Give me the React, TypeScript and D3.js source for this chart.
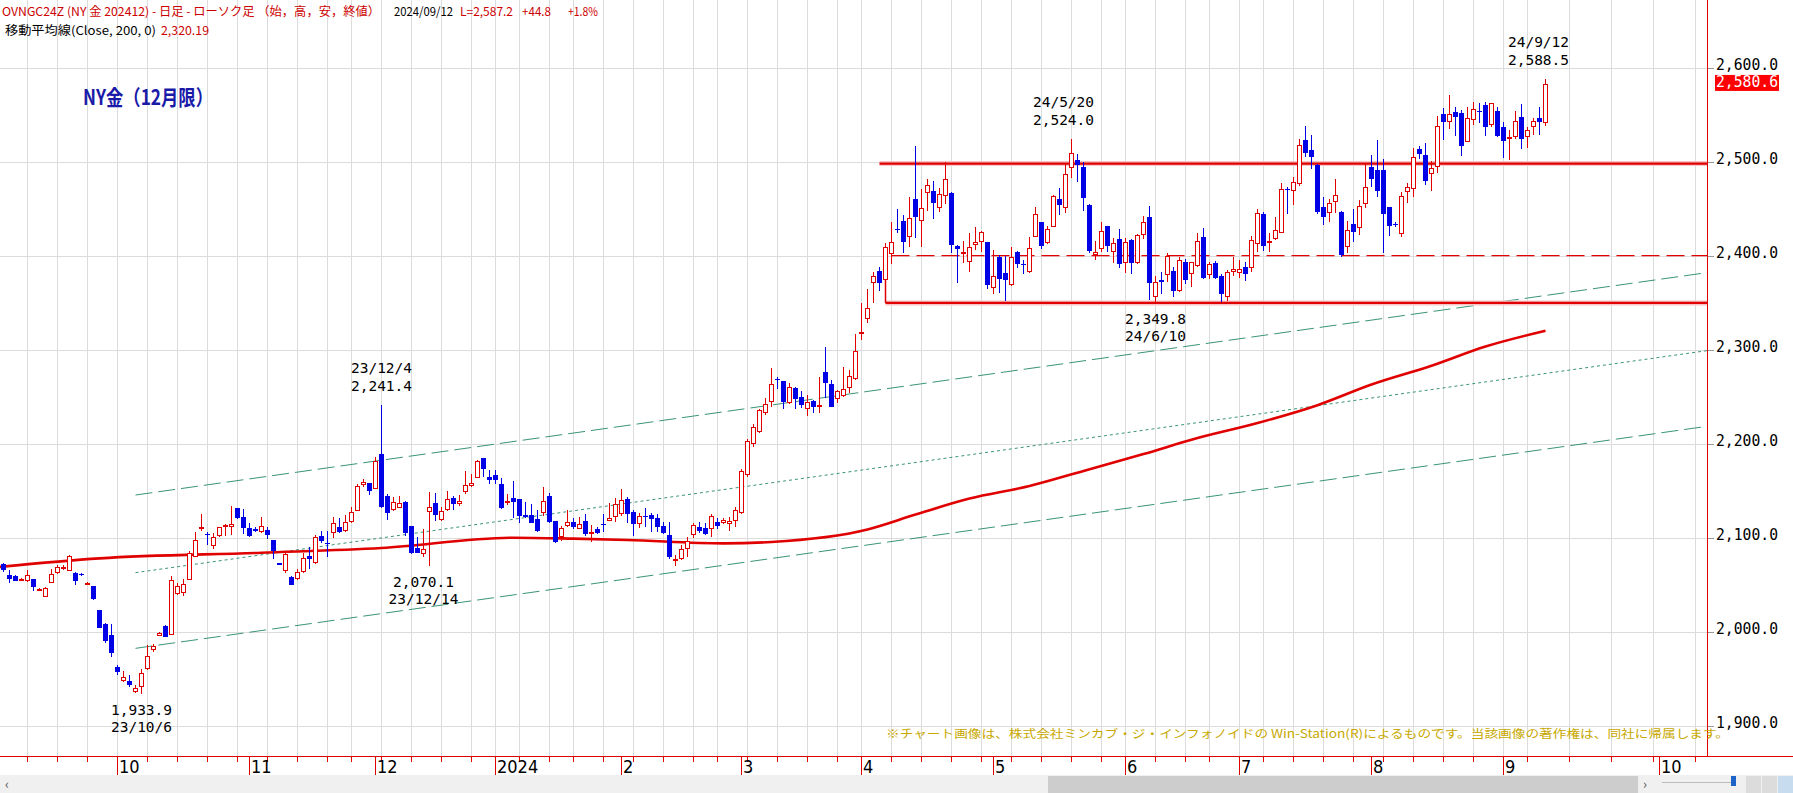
import React from 'react';
import * as d3 from 'd3';

// ---------- categories (trading days) ----------
const firstDay = '2023-09-05';
const lastDay = '2024-09-12';
const holidays = ['2023-09-04', '2023-11-23', '2023-12-25', '2024-01-01', '2024-01-15', '2024-02-19', '2024-03-29', '2024-05-27', '2024-06-19', '2024-07-04', '2024-09-02'];
const futureEnd = '2024-10-20';

// ---------- OHLC series (NY gold Dec-24, daily) ----------
const opens = [
  2072, 2059.9, 2059.2, 2054.6, 2053.6, 2055.7, 2044.3, 2037.2, 2051.4, 2062.1,
  2067.7, 2064.2, 2062.1, 2061.7, 2050.4, 2048.2, 2022.7, 2007.8, 1996.5, 1962.8,
  1947.2, 1947.9, 1935.5, 1941.5, 1959.9, 1980.5, 1995.8, 2006, 1996.1, 2039.7,
  2040.8, 2054.6, 2079.1, 2109.6, 2103.9, 2091.5, 2101.8, 2111.7, 2111, 2131.2,
  2121.6, 2109.9, 2109.2, 2105.7, 2108.2, 2097.2, 2072.8, 2065, 2058.6, 2056.5,
  2063.2, 2080.6, 2073.1, 2101.5, 2094.8, 2104.7, 2111.4, 2107.5, 2117.1, 2128.8,
  2155.7, 2158.6, 2151.8, 2189.1, 2144, 2129.5, 2132, 2138.4, 2112.1, 2089.1,
  2083, 2127.7, 2136.6, 2118.9, 2129.5, 2141.9, 2135.9, 2148.3, 2155, 2163.9,
  2184.5, 2164.6, 2166.4, 2156.8, 2137.3, 2141.9, 2140.9, 2123.8, 2123.8, 2119.6,
  2126, 2144.8, 2117.8, 2101.1, 2112.5, 2116.4, 2109.7, 2117.8, 2104.7, 2109.3,
  2114.6, 2118.2, 2121.7, 2125.6, 2140.9, 2127.7, 2114.6, 2123.1, 2124.2, 2120.6,
  2112.5, 2102.9, 2076.3, 2077.7, 2088.4, 2103.3, 2111.8, 2110, 2108.9, 2117.1,
  2116, 2114.3, 2117.5, 2126, 2166.4, 2199.4, 2212.1, 2232.3, 2244.8, 2268.5,
  2266.4, 2243, 2258.9, 2249.4, 2236.6, 2245.5, 2239.8, 2276, 2263.2, 2247.2,
  2250.8, 2259.3, 2268.5, 2316.4, 2332.7, 2370.6, 2383.8, 2374.2, 2401.5, 2428.4,
  2437, 2420.3, 2460.4, 2436.6, 2466.4, 2468.9, 2450.4, 2463.5, 2467.1, 2410.7,
  2401.5, 2393.7, 2411.1, 2414.3, 2414.6, 2365.3, 2399, 2381.6, 2369.2, 2403.6,
  2391.2, 2383.1, 2420.3, 2435.5, 2413.2, 2430.9, 2460.4, 2450.4, 2493, 2501.5,
  2494.4, 2454, 2400.8, 2407.5, 2431.3, 2404.3, 2417.4, 2391.9, 2416.7, 2391.9,
  2421.7, 2440.9, 2356.5, 2373.8, 2379.2, 2383.8, 2362.8, 2393.7, 2380.6, 2389.4,
  2420.3, 2379.2, 2391.9, 2378.4, 2355.7, 2383.1, 2381.6, 2388.4, 2386.6, 2412.1,
  2444, 2413.9, 2418.2, 2424.5, 2470.6, 2468.5, 2475.9, 2523.1, 2512.5, 2496.9,
  2451.8, 2445.1, 2457.5, 2446.1, 2409.6, 2433.7, 2429.1, 2455, 2494.4, 2491.2,
  2491.2, 2451.8, 2433.7, 2422.7, 2467.8, 2470.6, 2513.2, 2507.1, 2486.6, 2494.7,
  2550.4, 2542.2, 2552.5, 2551.5, 2521.3, 2544.4, 2554.3, 2560.3, 2539.1, 2553.9,
  2537.3, 2524.9, 2526.6, 2547.2, 2526.6, 2536.6, 2546.9, 2540.8,
];
const highs = [
  2073.4, 2065.6, 2059.9, 2056.8, 2065.6, 2056.4, 2046.1, 2047.2, 2066.3, 2070.6,
  2071.3, 2081.6, 2063.5, 2062.1, 2053.2, 2048.6, 2023.1, 2008.9, 2008.2, 1964.6,
  1958.2, 1953.9, 1943.3, 1960.7, 1985.8, 1986.5, 1999.3, 2006.8, 2059.2, 2051.4,
  2055.7, 2085.5, 2106, 2125.5, 2106.4, 2105, 2111.7, 2114.2, 2133.7, 2131.6,
  2130.2, 2115.3, 2111, 2121.7, 2111.8, 2097.6, 2073.5, 2084.1, 2059.3, 2067.1,
  2084.1, 2090.5, 2103.3, 2107.5, 2107.5, 2122.4, 2120.6, 2124.2, 2133, 2157.2,
  2162.8, 2158.6, 2186.2, 2241.4, 2146.5, 2143.7, 2144, 2139.1, 2112.8, 2101.1,
  2108.9, 2149, 2147.2, 2133, 2149.4, 2144.8, 2145.5, 2171.3, 2167.8, 2182.7,
  2185.2, 2172.1, 2172.1, 2163.2, 2146.2, 2160.4, 2141.2, 2138, 2135.9, 2129.5,
  2154.3, 2147.2, 2117.8, 2112.5, 2129.5, 2120.6, 2122.4, 2125.3, 2113.2, 2111.8,
  2125.6, 2136.6, 2141.9, 2151.5, 2143.7, 2129.5, 2126.7, 2131.3, 2126, 2125.3,
  2117.1, 2116.4, 2081.6, 2092.3, 2100.4, 2115.3, 2116.4, 2115.3, 2125.3, 2120.6,
  2120.6, 2122.4, 2133.1, 2172.8, 2204.7, 2221, 2237, 2248.3, 2280.2, 2271.4,
  2266.7, 2264.3, 2260.7, 2256.5, 2251.8, 2246.5, 2271.4, 2302.6, 2267.8, 2257.2,
  2281.3, 2278.4, 2316.7, 2349.4, 2364.3, 2383.1, 2388.4, 2413.9, 2436.2, 2449.4,
  2443.3, 2462.1, 2516.7, 2471, 2481.3, 2479.5, 2471.7, 2499.4, 2468.2, 2411.4,
  2416, 2423.8, 2430.2, 2426.3, 2415, 2406.1, 2400.8, 2400.1, 2409.6, 2405,
  2395.5, 2420.3, 2452.2, 2435.9, 2431.6, 2464.6, 2471.7, 2497.2, 2524, 2508.2,
  2499.7, 2454.7, 2416, 2435.5, 2431.6, 2419.2, 2428.1, 2418.5, 2417.8, 2423.5,
  2442.3, 2452.9, 2378.4, 2383.1, 2403.3, 2388.4, 2398.3, 2396.2, 2393.7, 2424.5,
  2429.2, 2393.7, 2394.8, 2380.6, 2384.8, 2398.3, 2395.5, 2393.7, 2421, 2449.4,
  2446.9, 2423.8, 2441.6, 2477, 2473.4, 2484.1, 2523.8, 2538, 2528.4, 2497.2,
  2462.1, 2460, 2481.6, 2447.9, 2436.9, 2449.3, 2459.3, 2497.6, 2507.1, 2523.1,
  2502.5, 2452.2, 2436.2, 2468.1, 2477, 2514.2, 2516.7, 2519.5, 2501.1, 2548.6,
  2557.5, 2571.3, 2557.8, 2555, 2557.8, 2563.9, 2562.1, 2563.9, 2562.8, 2558.6,
  2542.6, 2533.7, 2554.3, 2561.4, 2537.3, 2546.1, 2557.8, 2588.5,
];
const lows = [
  2063.1, 2052.1, 2053.6, 2054.3, 2052.9, 2042.9, 2044, 2037.2, 2051.4, 2061.4,
  2065.6, 2064.2, 2050, 2059.2, 2050, 2033.7, 2004.3, 1987.6, 1973.4, 1954.3,
  1946.5, 1940.8, 1935.1, 1933.9, 1959.2, 1978.7, 1995.4, 1994.7, 1996.1, 2039,
  2038, 2054.6, 2079.1, 2106.8, 2092.2, 2087.6, 2101.1, 2102.1, 2102.5, 2119.5,
  2103.9, 2101.1, 2106, 2104.7, 2098.3, 2077, 2070.6, 2062.8, 2050.1, 2055,
  2062.1, 2066.4, 2072.4, 2094, 2079.9, 2099.4, 2104.7, 2105.7, 2116, 2128.8,
  2153.6, 2145.5, 2151.5, 2131.3, 2118.9, 2128.8, 2131.3, 2101.8, 2082.7, 2083.4,
  2079.9, 2070.1, 2118.2, 2117.8, 2128.8, 2129.5, 2134.1, 2146.5, 2154.3, 2163.2,
  2164.2, 2157.2, 2156.8, 2130.2, 2134.8, 2120.6, 2115.3, 2121.4, 2115.3, 2106.5,
  2123.1, 2116, 2094, 2096.2, 2111.1, 2109.7, 2109, 2101.5, 2095.1, 2104.3,
  2106.1, 2117.5, 2117.1, 2123.1, 2115.3, 2102.2, 2110, 2111.8, 2106.5, 2106.5,
  2104, 2077, 2070.3, 2076.3, 2079.9, 2099.4, 2104.7, 2102.9, 2101.1, 2108.9,
  2114.3, 2107.5, 2111.8, 2124.9, 2165, 2196.2, 2211, 2230.6, 2238.7, 2257.9,
  2236.6, 2242.3, 2236.6, 2237.7, 2229.5, 2232.4, 2232.4, 2248.3, 2238.7, 2243.7,
  2250.1, 2254.3, 2267.8, 2310.4, 2328.1, 2349.4, 2362.8, 2374.2, 2391.2, 2423.8,
  2403.3, 2409.6, 2418.5, 2409.6, 2447.9, 2439.4, 2446.9, 2454.7, 2403.3, 2371.4,
  2391.9, 2383.1, 2406.1, 2404.3, 2364.3, 2358.9, 2360.7, 2352.2, 2367.8, 2386.6,
  2380.6, 2381.3, 2419.6, 2406.8, 2412.5, 2430.2, 2443.3, 2445.8, 2482.3, 2478.8,
  2447.9, 2402.6, 2395.1, 2404.3, 2403.6, 2391.9, 2387.3, 2381.3, 2380.6, 2391.2,
  2418.2, 2352.9, 2349.8, 2359.3, 2372.1, 2356.5, 2361.8, 2369.6, 2366.4, 2388.4,
  2375.6, 2375.6, 2374.9, 2351, 2351.8, 2378.4, 2376, 2373.5, 2383.1, 2404.3,
  2405.4, 2404, 2416.7, 2423.8, 2444.4, 2453.9, 2474.2, 2504.7, 2491.9, 2444.4,
  2432.7, 2436.2, 2445.1, 2399, 2402.5, 2414.9, 2422, 2450.4, 2473.4, 2462.8,
  2403.2, 2421.3, 2430.9, 2420.3, 2456.4, 2462.8, 2502.5, 2475.2, 2469.2, 2488.3,
  2523.1, 2534.8, 2527.3, 2506.1, 2521.3, 2539.1, 2540.8, 2527.7, 2536.6, 2525.9,
  2503.9, 2501.8, 2523.8, 2513.2, 2514.2, 2528.4, 2528.4, 2538,
];
const closes = [
  2065.6, 2056.4, 2054.3, 2056, 2059.9, 2047.2, 2045.4, 2046.1, 2061, 2068.5,
  2068.8, 2080.9, 2054.3, 2059.9, 2051.4, 2034.4, 2004.3, 1990.4, 1977.7, 1957.1,
  1951.4, 1943.6, 1940.1, 1955.7, 1974.1, 1985.1, 1999, 1994.7, 2054.6, 2048.6,
  2050.4, 2084.1, 2097.2, 2111, 2103.2, 2101.1, 2111, 2113.1, 2114.6, 2121.3,
  2110.3, 2102.1, 2107.5, 2112.5, 2102.6, 2086.2, 2070.6, 2083, 2050.1, 2063.9,
  2078.8, 2077.7, 2100.4, 2096.5, 2093.3, 2115.3, 2106.1, 2117.1, 2127.4, 2155,
  2159.6, 2149.7, 2181.6, 2133, 2126.7, 2137.7, 2136.6, 2104.7, 2084.1, 2083.4,
  2087.7, 2132.3, 2124.2, 2128.4, 2140.8, 2135.5, 2138.7, 2156.5, 2157.9, 2181.6,
  2172.8, 2161.4, 2161.4, 2131.3, 2139.4, 2138, 2123.1, 2121.7, 2116, 2107.5,
  2138.7, 2117.1, 2095.1, 2110, 2117.1, 2111.1, 2114.6, 2104.3, 2106.1, 2105,
  2113.9, 2121, 2135.9, 2140.1, 2124.9, 2114.3, 2123.1, 2121.7, 2119.6, 2111.1,
  2105.4, 2079.9, 2077.7, 2088, 2096.9, 2113.2, 2107.2, 2104, 2123.1, 2112.8,
  2118.9, 2117.8, 2129.5, 2170.6, 2202.6, 2218.2, 2235.5, 2242.3, 2263.2, 2267.8,
  2244.8, 2260, 2247.2, 2241.2, 2244.8, 2239.4, 2240.9, 2265, 2239.4, 2256.1,
  2257.9, 2272.1, 2298.3, 2318.9, 2344, 2378.4, 2371.4, 2409.6, 2415, 2427,
  2415, 2439.8, 2441.6, 2450.4, 2474.9, 2455.7, 2465.7, 2481.3, 2411.8, 2406.8,
  2403.6, 2408.9, 2414.3, 2424.9, 2369.2, 2378.4, 2375.6, 2374.5, 2399, 2391.2,
  2390.5, 2407.9, 2444, 2410.4, 2428.4, 2463.5, 2454.3, 2486.6, 2508.9, 2496.5,
  2461.8, 2405.4, 2403.6, 2426.7, 2410.7, 2413.2, 2391.2, 2415, 2391.9, 2422.1,
  2436.2, 2370.6, 2372.4, 2371.7, 2399.7, 2362.8, 2395.5, 2374.2, 2393, 2415.3,
  2376.3, 2391.2, 2376, 2358.9, 2382.7, 2385.5, 2385.9, 2380.2, 2416.7, 2445.1,
  2410.7, 2415.3, 2427.4, 2470.6, 2469.9, 2478.1, 2517.8, 2508.9, 2505.4, 2446.9,
  2441.5, 2456.4, 2464.6, 2400.8, 2427.3, 2425.6, 2452.9, 2473.1, 2481.2, 2469.2,
  2444.4, 2432, 2432.7, 2463.5, 2473.4, 2504.7, 2507.8, 2479.8, 2493, 2538,
  2541.9, 2550.4, 2547.9, 2517.1, 2546.5, 2555.7, 2553.6, 2537.3, 2562.1, 2527.3,
  2522.4, 2525.9, 2543.3, 2524.2, 2533.7, 2543.3, 2542.6, 2582.3,
];

// 200-day moving average, read at bar positions [barIndex, value]
const maPoints: [number, number][] = [
  [-0.6, 2069], [16, 2078], [43, 2084], [63, 2089], [85, 2100], [95, 2099], [104, 2097.6],
  [120, 2094], [128, 2095.5], [144, 2108.8], [152, 2124.6], [161, 2141.6], [171, 2155],
  [180, 2171], [190, 2189], [199, 2206], [209, 2222], [219, 2241], [228, 2263], [238, 2283],
  [247, 2303.4], [257, 2320.2],
];

// trend channel: [startBar, startValue, endBar, endValue]
const channelUpper = [22, 2145.4, 284, 2382];
const channelMiddle = [22, 2062.8, 284, 2299];
const channelLower = [22, 1982.3, 284, 2218.5];

// horizontal levels: [startBar, value]
const resistance = [146, 2498];
const support = [147, 2349.8];
const midLine = [148, 2400];

const yTicks = [1900, 2000, 2100, 2200, 2300, 2400, 2500, 2600];

const annotations = [
  { bar: 257, value: 2588.5, date: '24/9/12', kind: 'high', dx: -7 },
  { bar: 178, value: 2524.0, date: '24/5/20', kind: 'high', dx: -8 },
  { bar: 192, value: 2349.8, date: '24/6/10', kind: 'low', dx: 0 },
  { bar: 63, value: 2241.4, date: '23/12/4', kind: 'high', dx: 0 },
  { bar: 71, value: 2070.1, date: '23/12/14', kind: 'low', dx: -6 },
  { bar: 23, value: 1933.9, date: '23/10/6', kind: 'low', dx: 0 },
];

const lastPriceTag = 2580.6;

const RED = '#e00000';
const BLUE = '#0000e6';
const GRID = '#dcdcdc';
const TEAL = '#3a9478';
const W = 1793;
const H = 793;
const PLOT_R = 1707;
const AXIS_Y = 756;

const parse = d3.utcParse('%Y-%m-%d');
const fmt = d3.utcFormat('%Y-%m-%d');

function buildDays() {
  const trading = d3.utcDay
    .range(parse(firstDay)!, d3.utcDay.offset(parse(lastDay)!, 1))
    .filter((d) => d.getUTCDay() !== 0 && d.getUTCDay() !== 6 && !holidays.includes(fmt(d)));
  const future = d3.utcDay.range(d3.utcDay.offset(parse(lastDay)!, 1), parse(futureEnd)!);
  return trading.concat(future);
}

export default function App() {
  const days = buildDays();
  const x = d3.scaleLinear().domain([0, 1]).range([3.5, 9.5]);
  const y = d3.scaleLinear().domain([1900, 2600]).range([725.7, 67.7]);

  const weekStarts: number[] = [];
  const monthStarts: number[] = [];
  days.forEach((d, i) => {
    if (i === 0) return;
    const p = days[i - 1];
    if (+d3.utcMonday.floor(d) !== +d3.utcMonday.floor(p)) weekStarts.push(i);
    if (d.getUTCMonth() !== p.getUTCMonth()) monthStarts.push(i);
  });
  const visWeeks = weekStarts.filter((i) => x(i) < PLOT_R);
  const visMonths = monthStarts.filter((i) => x(i) < PLOT_R);

  const maLine = d3.line<[number, number]>().x((d) => x(d[0])).y((d) => y(d[1])).curve(d3.curveMonotoneX);

  const chan = (c: number[]) => {
    const sx = d3.scaleLinear().domain([c[0], c[2]]).range([c[1], c[3]]);
    return { x1: x(c[0]), y1: y(c[1]), x2: Math.min(x(c[2]), PLOT_R), y2: y(sx(c[2])) };
  };

  const mono = "'DejaVu Sans Mono', 'Liberation Mono', monospace";
  const jp = "'Noto Sans CJK JP', 'Noto Sans', sans-serif";
  const narrow = "'Liberation Sans Narrow', 'DejaVu Sans Condensed', 'Liberation Sans', sans-serif";

  return (
    <svg width={W} height={H} style={{ position: 'absolute', left: 0, top: 0, background: '#fff' }}>
      <rect x={0} y={0} width={W} height={H} fill="#fff" />
      <defs>
        <clipPath id="plot">
          <rect x={0} y={0} width={PLOT_R} height={AXIS_Y} />
        </clipPath>
      </defs>
      {/* grid */}
      <g shapeRendering="crispEdges">
        {visWeeks.map((i) => (
          <line key={'vg' + i} x1={x(i)} x2={x(i)} y1={0} y2={AXIS_Y} stroke={GRID} strokeWidth={1} />
        ))}
        {yTicks.map((v) => (
          <line key={'hg' + v} x1={0} x2={PLOT_R} y1={Math.round(y(v)) + 0.5} y2={Math.round(y(v)) + 0.5} stroke={GRID} />
        ))}
      </g>
      <g clipPath="url(#plot)">
        {/* channel */}
        {[channelUpper, channelLower].map((c, k) => {
          const l = chan(c);
          return <line key={'ch' + k} {...l} stroke={TEAL} strokeWidth={1} strokeDasharray="17,6" />;
        })}
        {(() => {
          const l = chan(channelMiddle);
          return <line {...l} stroke={TEAL} strokeWidth={1} strokeDasharray="3,3" />;
        })()}
        {/* moving average */}
        <path d={maLine(maPoints) || ''} fill="none" stroke={RED} strokeWidth={2.6} />
        {/* levels */}
        <line x1={x(resistance[0])} x2={PLOT_R} y1={y(resistance[1])} y2={y(resistance[1])} stroke="#f5c6c6" strokeWidth={5} />
        <line x1={x(resistance[0])} x2={PLOT_R} y1={y(resistance[1])} y2={y(resistance[1])} stroke={RED} strokeWidth={2.2} />
        <line x1={x(support[0])} x2={PLOT_R} y1={y(support[1])} y2={y(support[1])} stroke="#f5c6c6" strokeWidth={5} />
        <line x1={x(support[0])} x2={PLOT_R} y1={y(support[1])} y2={y(support[1])} stroke={RED} strokeWidth={2.2} />
        <line x1={x(support[0])} x2={x(support[0])} y1={y(midLine[1])} y2={y(support[1])} stroke={RED} strokeWidth={1.5} />
        <line x1={x(midLine[0])} x2={PLOT_R} y1={y(midLine[1])} y2={y(midLine[1])} stroke={RED} strokeWidth={1.2} strokeDasharray="18,7" />
        {/* candles */}
        <g shapeRendering="crispEdges">
          {opens.map((o, i) => {
            const c = closes[i];
            const cx = x(i);
            const up = c >= o;
            const col = up ? RED : BLUE;
            const top = Math.round(y(Math.max(o, c)));
            const bot = Math.round(y(Math.min(o, c)));
            const h = Math.max(1, bot - top);
            return (
              <g key={'c' + i}>
                <line x1={cx} x2={cx} y1={Math.round(y(highs[i]))} y2={Math.round(y(lows[i]))} stroke={col} strokeWidth={1} />
                {up ? (
                  <rect x={cx - 2} y={top + 0.5} width={4} height={Math.max(1, h - 1)} fill="#fff" stroke={col} strokeWidth={1} />
                ) : (
                  <rect x={cx - 2.5} y={top} width={5} height={h} fill={col} />
                )}
              </g>
            );
          })}
        </g>
      </g>
      {/* annotations */}
      <g fontFamily={mono} fontSize={14.5} fill="#000" textAnchor="middle">
        {annotations.map((a) => {
          const cx = x(a.bar) + a.dx;
          const yy = y(a.value);
          const val = d3.format(',.1f')(a.value);
          const first = a.kind === 'high' ? a.date : val;
          const second = a.kind === 'high' ? val : a.date;
          const y1 = a.kind === 'high' ? yy - 36 : yy + 17;
          const y2 = a.kind === 'high' ? yy - 18 : yy + 34;
          return (
            <g key={a.date}>
              <text x={cx} y={y1} dominantBaseline="middle">{first}</text>
              <text x={cx} y={y2} dominantBaseline="middle">{second}</text>
            </g>
          );
        })}
      </g>
      {/* right axis */}
      <line x1={PLOT_R + 0.5} x2={PLOT_R + 0.5} y1={0} y2={AXIS_Y} stroke={RED} strokeWidth={1} />
      <g fontFamily={mono} fontSize={15} fill="#000">
        {yTicks.map((v) => (
          <g key={'yt' + v}>
            <line x1={PLOT_R + 1} x2={PLOT_R + 7} y1={Math.round(y(v)) + 0.5} y2={Math.round(y(v)) + 0.5} stroke="#999" />
            <text x={PLOT_R + 9} y={y(v) - 2} dominantBaseline="middle" textLength={62} lengthAdjust="spacingAndGlyphs">{d3.format(',.1f')(v)}</text>
          </g>
        ))}
        <rect x={PLOT_R + 8} y={y(lastPriceTag) - 11} width={64} height={16} fill="#ff0000" />
        <text x={PLOT_R + 9} y={y(lastPriceTag) - 3} dominantBaseline="middle" fill="#fff" textLength={62} lengthAdjust="spacingAndGlyphs">{d3.format(',.1f')(lastPriceTag)}</text>
      </g>
      {/* bottom axis */}
      <line x1={0} x2={W} y1={AXIS_Y + 0.5} y2={AXIS_Y + 0.5} stroke={RED} />
      <g shapeRendering="crispEdges">
        {visWeeks.map((i) => (
          <line key={'wt' + i} x1={x(i)} x2={x(i)} y1={AXIS_Y} y2={AXIS_Y + 6} stroke={RED} />
        ))}
        {visMonths.map((i) => (
          <line key={'mt' + i} x1={x(i)} x2={x(i)} y1={AXIS_Y} y2={AXIS_Y + 19} stroke={RED} />
        ))}
      </g>
      <g fontFamily={narrow} fontSize={18} fill="#000">
        {visMonths.map((i) => (
          <text key={'ml' + i} x={x(i) + 1.5} y={AXIS_Y + 17}>
            {days[i].getUTCMonth() === 0 ? String(days[i].getUTCFullYear()) : String(days[i].getUTCMonth() + 1)}
          </text>
        ))}
      </g>
      {/* scrollbar */}
      <rect x={0} y={775} width={W} height={18} fill="#f0f0f0" />
      <rect x={1048} y={776} width={590} height={17} fill="#cdcdcd" />
      <text x={5} y={789} fontSize={13} fill="#555" fontFamily={jp}>‹</text>
      <text x={1643} y={789} fontSize={13} fill="#555" fontFamily={jp}>›</text>
      <line x1={1662} x2={1735} y1={782.5} y2={782.5} stroke="#bbb" />
      <rect x={1731} y={776} width={5} height={10} fill="#1e64c8" />
      <rect x={1746} y={776} width={15} height={17} fill="#dcdcdc" />
      <rect x={1762} y={776} width={15} height={17} fill="#dcdcdc" />
      <rect x={1778} y={776} width={15} height={17} fill="#c8dcf0" />
      {/* copyright */}
      <text x={886} y={738} fontFamily={jp} fontSize={11.5} fill="#c8a800" textLength={843} lengthAdjust="spacingAndGlyphs">
        ※チャート画像は、株式会社ミンカブ・ジ・インフォノイドの Win-Station(R)によるものです。当該画像の著作権は、同社に帰属します。
      </text>
      {/* header */}
      <g fontFamily={jp} fontSize={12}>
        <text x={2} y={16} fill="#cc0000" textLength={378} lengthAdjust="spacingAndGlyphs">OVNGC24Z (NY 金 202412) - 日足 - ローソク足 （始，高，安，終値）</text>
        <text x={394} y={16} fill="#000" textLength={59} lengthAdjust="spacingAndGlyphs">2024/09/12</text>
        <text x={460} y={16} fill="#cc0000" textLength={53} lengthAdjust="spacingAndGlyphs">L=2,587.2</text>
        <text x={522} y={16} fill="#cc0000" textLength={29} lengthAdjust="spacingAndGlyphs">+44.8</text>
        <text x={568} y={16} fill="#cc0000" textLength={30} lengthAdjust="spacingAndGlyphs">+1.8%</text>
        <text x={5} y={35} fill="#000" textLength={151} lengthAdjust="spacingAndGlyphs">移動平均線(Close, 200, 0)</text>
        <text x={161} y={35} fill="#cc0000" textLength={48} lengthAdjust="spacingAndGlyphs">2,320.19</text>
      </g>
      {/* title */}
      <text x={83} y={105} fontFamily={jp} fontWeight="bold" fontSize={21} fill="#1a1aa8" textLength={130} lengthAdjust="spacingAndGlyphs">NY金（12月限）</text>
    </svg>
  );
}
